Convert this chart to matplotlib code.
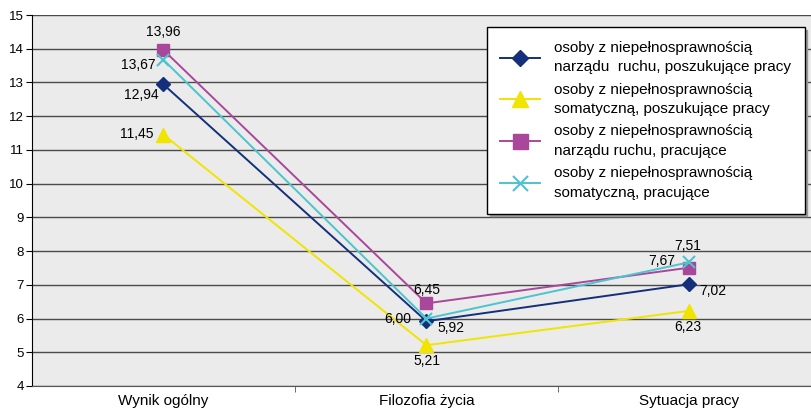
import matplotlib.pyplot as plt

plt.rcParams['font.family'] = ['Liberation Sans', 'DejaVu Sans']

categories = ['Wynik ogólny', 'Filozofia życia', 'Sytuacja pracy']

ruch_szukajacy = [12.94, 5.92, 7.02]
somat_szukajacy = [11.45, 5.21, 6.23]
ruch_pracujacy = [13.96, 6.45, 7.51]
somat_pracujacy = [13.67, 6.00, 7.67]

labels = ['osoby z niepełnosprawnością\nnarządu  ruchu, poszukujące pracy',
          'osoby z niepełnosprawnością\nsomatyczną, poszukujące pracy',
          'osoby z niepełnosprawnością\nnarządu ruchu, pracujące',
          'osoby z niepełnosprawnością\nsomatyczną, pracujące']

fig = plt.figure(figsize=(8.12, 4.12), dpi=100)
ax = fig.add_axes([32/812, 26/412, 780/812, 371/412])
ax.set_facecolor('#ebebeb')

x = range(len(categories))
ax.plot(x, ruch_szukajacy, color='#14307a', lw=1.4, marker='D', ms=7, label=labels[0], zorder=5)
ax.plot(x, somat_szukajacy, color='#f0e400', lw=1.4, marker='^', ms=10, label=labels[1], zorder=4)
ax.plot(x, ruch_pracujacy, color='#a9479b', lw=1.4, marker='s', ms=9, label=labels[2], zorder=3)
ax.plot(x, somat_pracujacy, color='#4dc3cf', lw=1.4, marker='x', ms=9, mew=1.5, label=labels[3], zorder=6)

# value labels, offsets in pixels from each point
def lab(i, v, dx, dy):
    ax.annotate(f'{v:.2f}'.replace('.', ','), (i, v), xytext=(dx, dy),
                textcoords='offset pixels', ha='center', va='center', fontsize=10, zorder=7)

lab(0, ruch_pracujacy[0], 0, 18)
lab(0, somat_pracujacy[0], -25, -5)
lab(0, ruch_szukajacy[0], -22, -11)
lab(0, somat_szukajacy[0], -27, 1)
lab(1, ruch_pracujacy[1], 0, 13)
lab(1, somat_pracujacy[1], -29, 0)
lab(1, ruch_szukajacy[1], 24, -7)
lab(1, somat_szukajacy[1], 0, -16)
lab(2, ruch_pracujacy[2], -2, 22)
lab(2, somat_pracujacy[2], -28, 1)
lab(2, ruch_szukajacy[2], 23, -7)
lab(2, somat_szukajacy[2], -2, -16)

ax.set_ylim(4, 15)
ax.set_xlim(-0.5, 2.466)
ax.set_yticks(range(4, 16))
ax.yaxis.grid(True, color='#4a4a4a', lw=1.0)
ax.set_axisbelow(True)
ax.set_xticks(list(x))
ax.set_xticklabels(categories, fontsize=11)
ax.tick_params(axis='x', length=0, pad=6)
ax.set_xticks([0.5, 1.5], minor=True)
ax.tick_params(axis='x', which='minor', length=4, color='#555555')
ax.tick_params(axis='y', labelsize=9.5, length=4, pad=2)
ax.spines['top'].set_visible(False)
ax.spines['right'].set_visible(False)
ax.spines['bottom'].set_color('#555555')

leg = ax.legend(loc='upper left', bbox_to_anchor=(0.583, 0.968), borderaxespad=0,
                fontsize=11, fancybox=False, edgecolor='black', framealpha=1,
                shadow={'color': '#999999', 'alpha': 1}, markerscale=1.2,
                handlelength=2.6, labelspacing=0.55, borderpad=0.9, handletextpad=0.9)
leg.get_frame().set_linewidth(1.0)
for t in leg.get_texts():
    t.set_linespacing(1.5)

plt.savefig('out.png')
